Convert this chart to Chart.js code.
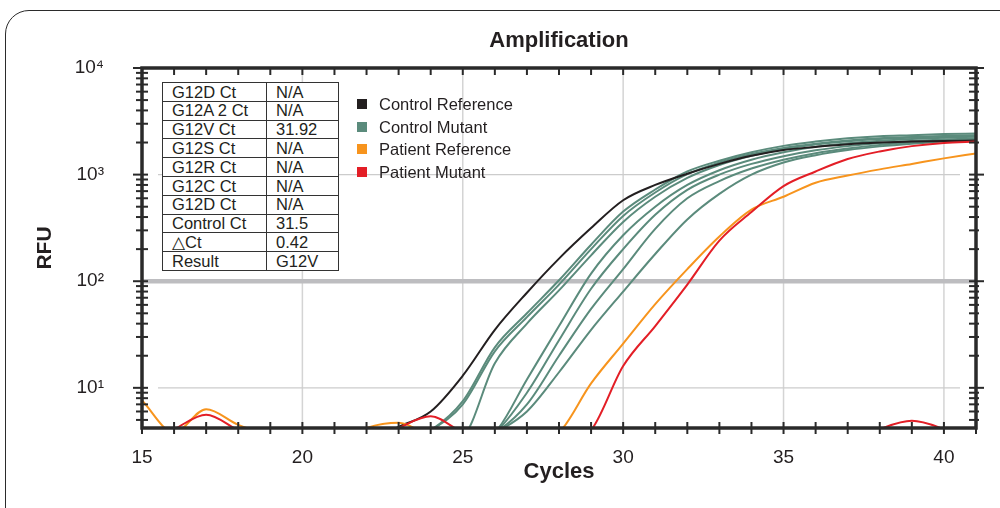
<!DOCTYPE html>
<html>
<head>
<meta charset="utf-8">
<script src="https://cdn.jsdelivr.net/npm/chart.js@4.4.1/dist/chart.umd.min.js"></script>
<style>
  html, body { margin: 0; padding: 0; background: #fff; overflow: hidden; }
  #wrap { position: relative; width: 1000px; height: 508px; overflow: hidden; font-family: "Liberation Sans", Arial, sans-serif; color: #231f20; }
  #frame { position: absolute; left: 5px; top: 10px; width: 1100px; height: 600px; border: 1.5px solid #2b2b2b; border-radius: 24px; box-sizing: border-box; }
  canvas { position: absolute; left: 0; top: 0; }
  #ctTable { position: absolute; left: 162px; top: 82px; width: 177px; height: 189px; border-collapse: collapse; table-layout: fixed; background: #fff; font-size: 16.5px; }
  #ctTable td { border: 1.5px solid #333; padding: 0 0 0 9px; line-height: 1; white-space: nowrap; overflow: hidden; }
  #legend { position: absolute; left: 357px; top: 93px; font-size: 16.5px; }
  .item { position: relative; height: 22.7px; line-height: 22.7px; padding-left: 22px; white-space: nowrap; }
  .item span { position: absolute; left: 0; top: 6px; width: 10px; height: 10px; }
</style>
</head>
<body>
<div id="wrap">
  <div id="frame"></div>
  <canvas id="amplificacion" width="1000" height="508"></canvas>
  <table id="ctTable"><colgroup><col style="width:104px"><col></colgroup><tbody></tbody></table>
  <div id="legend"></div>
</div>
<script>
// ciclos (eje x)
const cycles = [15, 16, 17, 18, 19, 20, 21, 22, 23, 24, 25, 26, 27, 28, 29, 30, 31, 32, 33, 34, 35, 36, 37, 38, 39, 40, 41];

// RFU por ciclo (3 = por debajo del eje)
const controlReference = [3, 3, 3, 3, 3, 3, 3, 3, 4.3, 6.0, 13, 35, 78, 163, 315, 575, 800, 1020, 1260, 1500, 1700, 1820, 1930, 2000, 2040, 2070, 2090];

const controlMutant1 = [3, 3, 3, 3, 3, 3, 3, 3, 3, 4, 7.5, 24, 50, 102, 220, 450, 725, 1070, 1350, 1620, 1860, 2040, 2190, 2290, 2340, 2400, 2430];
const controlMutant2 = [3, 3, 3, 3, 3, 3, 3, 3, 3, 4, 7, 22, 46, 93, 200, 410, 680, 1010, 1300, 1560, 1780, 1950, 2090, 2190, 2250, 2300, 2340];
const controlMutant3 = [3, 3, 3, 3, 3, 3, 3, 3, 3, 3, 3.5, 17, 40, 82, 175, 360, 620, 930, 1230, 1500, 1740, 1920, 2060, 2160, 2230, 2280, 2320];
const controlMutant4 = [3, 3, 3, 3, 3, 3, 3, 3, 3, 3, 3, 3.8, 12, 38, 118, 270, 500, 800, 1100, 1380, 1620, 1820, 1970, 2080, 2160, 2220, 2260];
const controlMutant5 = [3, 3, 3, 3, 3, 3, 3, 3, 3, 3, 3, 3.8, 9, 28, 85, 200, 420, 720, 1000, 1260, 1490, 1690, 1850, 1980, 2070, 2140, 2190];
const controlMutant6 = [3, 3, 3, 3, 3, 3, 3, 3, 3, 3, 3, 3.8, 7, 20, 55, 130, 310, 600, 870, 1140, 1380, 1590, 1760, 1900, 2000, 2080, 2140];
const controlMutant7 = [3, 3, 3, 3, 3, 3, 3, 3, 3, 3, 3, 3.8, 6, 14, 35, 80, 180, 380, 660, 1000, 1300, 1520, 1700, 1840, 1950, 2040, 2110];

const patientReference = [7.6, 3.8, 6.3, 4.5, 3.6, 3, 3, 4.2, 4.7, 3.5, 3, 3, 3, 3.8, 11, 26, 61, 130, 263, 470, 620, 840, 980, 1120, 1260, 1420, 1580];
const patientMutant = [3, 4.1, 5.6, 4.0, 3, 3, 3, 3, 4.2, 5.4, 3.8, 3, 3, 3, 4.0, 16, 38, 93, 240, 445, 780, 1070, 1400, 1650, 1850, 1980, 2040];
const patientMutantNeg = [3, 3, 3, 3, 3, 3, 3, 3, 3, 3, 3, 3, 3, 3, 3, 3, 3, 3, 3, 3, 3, 3, 3, 4.1, 4.9, 4.1, 3];

const threshold = 100;
const gridDecades = [10, 1000];

// tabla de resultados
const tableLabels = ["G12D Ct", "G12A 2 Ct", "G12V Ct", "G12S Ct", "G12R Ct", "G12C Ct", "G12D Ct", "Control Ct", "\u25B3Ct", "Result"];
const tableValues = ["N/A", "N/A", "31.92", "N/A", "N/A", "N/A", "N/A", "31.5", "0.42", "G12V"];

// leyenda
const seriesNames = ["Control Reference", "Control Mutant", "Patient Reference", "Patient Mutant"];
const seriesColors = ["#231f20", "#5b8b7c", "#f7941d", "#e31e26"];

const tbody = document.querySelector("#ctTable tbody");
tableLabels.forEach((lab, i) => {
  const tr = document.createElement("tr");
  tr.innerHTML = "<td>" + lab + "</td><td>" + tableValues[i] + "</td>";
  tbody.appendChild(tr);
});
const legend = document.getElementById("legend");
seriesNames.forEach((name, i) => {
  const d = document.createElement("div");
  d.className = "item";
  d.innerHTML = '<span style="background:' + seriesColors[i] + '"></span>' + name;
  legend.appendChild(d);
});

const toPoints = (vals) => vals.map((v, i) => ({ x: cycles[i], y: v }));
const serie = (vals, color) => ({
  data: toPoints(vals),
  borderColor: color,
  backgroundColor: color,
  borderWidth: 2,
  pointRadius: 0,
  fill: false,
  clip: 0,
  cubicInterpolationMode: "monotone",
});

const sup = { 1: "\u00B9", 2: "\u00B2", 3: "\u00B3", 4: "\u2074" };
const font = '"Liberation Sans", Arial, sans-serif';

const plugin_marco = {
  id: "marco",
  beforeDatasetsDraw: (chart) => {
    const { ctx, chartArea: a, scales } = chart;
    const x = scales.x, y = scales.y;
    ctx.save();
    // rejilla vertical
    ctx.strokeStyle = "#d4d4d4";
    ctx.lineWidth = 1.5;
    cycles.filter((c) => c % 5 === 0 && c > x.min).forEach((c) => {
      const px = x.getPixelForValue(c);
      ctx.beginPath(); ctx.moveTo(px, a.top); ctx.lineTo(px, a.bottom); ctx.stroke();
    });
    // rejilla horizontal
    ctx.strokeStyle = "#cccccc";
    ctx.lineWidth = 1.2;
    gridDecades.forEach((v) => {
      const py = y.getPixelForValue(v);
      ctx.beginPath(); ctx.moveTo(a.left + 16, py); ctx.lineTo(a.right - 16, py); ctx.stroke();
    });
    // umbral
    ctx.strokeStyle = "#bdbdc0";
    ctx.lineWidth = 4.5;
    const pt = y.getPixelForValue(threshold);
    ctx.beginPath(); ctx.moveTo(a.left, pt); ctx.lineTo(a.right, pt); ctx.stroke();
    ctx.restore();
  },
  afterDatasetsDraw: (chart) => {
    const { ctx, chartArea: a, scales } = chart;
    const x = scales.x, y = scales.y;
    ctx.save();
    ctx.strokeStyle = "#2a2a2a";
    ctx.lineWidth = 2;
    cycles.forEach((c) => {
      const px = x.getPixelForValue(c);
      ctx.beginPath(); ctx.moveTo(px, a.bottom - 6); ctx.lineTo(px, a.bottom + 6); ctx.stroke();
      ctx.beginPath(); ctx.moveTo(px, a.top); ctx.lineTo(px, a.top + 7); ctx.stroke();
    });
    for (let e = 0; e <= 4; e++) {
      for (let m = 1; m <= 9; m++) {
        const v = m * Math.pow(10, e);
        if (v < y.min || v > y.max) continue;
        const py = y.getPixelForValue(v);
        const big = m === 1;
        ctx.beginPath(); ctx.moveTo(a.left - (big ? 9 : 6), py); ctx.lineTo(a.left + 6, py); ctx.stroke();
        ctx.beginPath(); ctx.moveTo(a.right - 7, py); ctx.lineTo(a.right + (big ? 8 : 3), py); ctx.stroke();
      }
    }
    ctx.lineWidth = 3.5;
    ctx.strokeRect(a.left, a.top, a.right - a.left, a.bottom - a.top);
    ctx.restore();
  },
  afterDraw: (chart) => {
    const { ctx, chartArea: a } = chart;
    ctx.save();
    ctx.fillStyle = "#231f20";
    ctx.font = "bold 22px " + font;
    ctx.textAlign = "center";
    ctx.textBaseline = "middle";
    ctx.fillText("Amplification", (a.left + a.right) / 2, 41);
    ctx.restore();
  },
};

const ctx = document.getElementById("amplificacion").getContext("2d");
const chart_amp = new Chart(ctx, {
  type: "line",
  data: {
    datasets: [
      serie(patientMutant, seriesColors[3]),
      serie(patientMutantNeg, seriesColors[3]),
      serie(patientReference, seriesColors[2]),
      serie(controlReference, seriesColors[0]),
      serie(controlMutant1, seriesColors[1]),
      serie(controlMutant2, seriesColors[1]),
      serie(controlMutant3, seriesColors[1]),
      serie(controlMutant4, seriesColors[1]),
      serie(controlMutant5, seriesColors[1]),
      serie(controlMutant6, seriesColors[1]),
      serie(controlMutant7, seriesColors[1]),
    ],
  },
  options: {
    responsive: false,
    animation: false,
    layout: { padding: { top: 68, right: 24, left: 0, bottom: 0 } },
    plugins: {
      legend: { display: false },
      tooltip: { enabled: false },
      title: { display: false },
    },
    scales: {
      x: {
        type: "linear",
        min: 15,
        max: 41,
        grid: { display: false },
        border: { display: false },
        ticks: {
          stepSize: 1,
          autoSkip: false,
          maxRotation: 0,
          padding: 10,
          color: "#231f20",
          font: { family: font, size: 19 },
          callback: (v) => (v % 5 === 0 ? String(v) : ""),
        },
        title: {
          display: true,
          text: "Cycles",
          color: "#231f20",
          font: { family: font, size: 22, weight: "bold" },
          padding: { top: 0, bottom: 23 },
        },
        afterFit: (s) => { s.height = 80; },
      },
      y: {
        type: "logarithmic",
        min: 4.2,
        max: 10000,
        grid: { display: false },
        border: { display: false },
        ticks: {
          autoSkip: false,
          padding: 30,
          color: "#231f20",
          font: { family: font, size: 19 },
          callback: (v) => {
            const l = Math.log10(v);
            const r = Math.round(l);
            return Math.abs(l - r) < 1e-6 && r >= 1 ? "10" + sup[r] : "";
          },
        },
        title: {
          display: true,
          text: "RFU",
          color: "#231f20",
          font: { family: font, size: 21, weight: "bold" },
          padding: { top: 33, bottom: 0 },
        },
        afterFit: (s) => { s.width = 142; },
      },
    },
  },
  plugins: [plugin_marco],
});
</script>
</body>
</html>
